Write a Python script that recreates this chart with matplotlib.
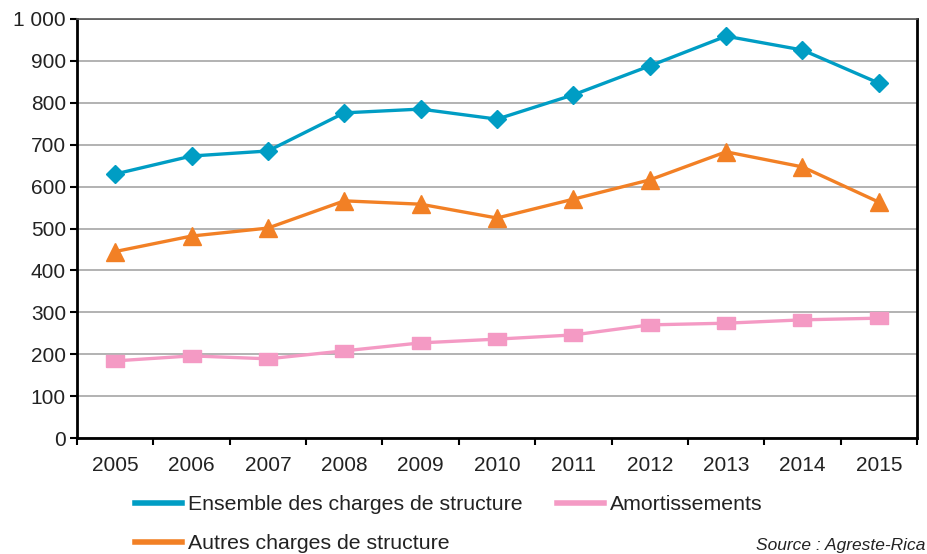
import matplotlib
matplotlib.use("Agg")
import matplotlib.pyplot as plt
import numpy as np

years = ["2005", "2006", "2007", "2008", "2009", "2010", "2011", "2012", "2013", "2014", "2015"]
ensemble = [630, 673, 685, 776, 785, 761, 819, 888, 959, 926, 847]
autres = [445, 482, 501, 566, 558, 525, 570, 616, 683, 647, 563]
amort = [184, 196, 189, 208, 227, 236, 246, 270, 274, 282, 286]
yticks = [0, 100, 200, 300, 400, 500, 600, 700, 800, 900, 1000]
ytick_labels = ["0", "100", "200", "300", "400", "500", "600", "700", "800", "900", "1 000"]
labels = ["Ensemble des charges de structure", "Autres charges de structure", "Amortissements"]
source = "Source : Agreste-Rica"

plt.rcParams['font.family'] = ['Liberation Sans', 'DejaVu Sans']

c_blue = "#009DC4"
c_orange = "#F28025"
c_pink = "#F49AC4"

fig = plt.figure(figsize=(9.27, 5.54), dpi=100)
ax = fig.add_axes([77/927, 1-438/554, (917-77)/927, (438-19)/554])

x = np.arange(len(years))
rect = [(-1, -0.68), (1, -0.68), (1, 0.68), (-1, 0.68), (-1, -0.68)]

l1, = ax.plot(x, ensemble, color=c_blue, lw=2.4, marker='D', ms=9, mec=c_blue, mfc=c_blue, zorder=4)
l2, = ax.plot(x, autres, color=c_orange, lw=2.4, marker='^', ms=13.5, mec=c_orange, mfc=c_orange, zorder=4)
l3, = ax.plot(x, amort, color=c_pink, lw=2.4, marker=rect, ms=13.5, mec=c_pink, mfc=c_pink, zorder=4)

ax.set_xlim(-0.5, len(years) - 0.5)
ax.set_ylim(0, 1000)
ax.set_yticks(yticks)
ax.set_yticklabels(ytick_labels)
ax.yaxis.grid(True, color="#a6a6a6", lw=1.2)
ax.set_axisbelow(True)

ax.set_xticks(np.arange(-0.5, len(years), 1.0))
ax.set_xticklabels([])
ax.set_xticks(x, minor=True)
ax.set_xticklabels(years, minor=True)
ax.tick_params(axis='x', which='minor', length=0, pad=13, labelsize=15, colors="#222222")
ax.tick_params(axis='x', which='major', length=5, width=1.5, color='black')
ax.tick_params(axis='y', which='major', length=5, width=1.5, color='black', labelsize=15, labelcolor="#222222", pad=3)

for s in ['left', 'bottom', 'right']:
    ax.spines[s].set_color('black')
    ax.spines[s].set_linewidth(2)
ax.spines['top'].set_color('#555555')
ax.spines['top'].set_linewidth(1.2)

hl1 = plt.Line2D([], [], color=c_blue, lw=4)
hl2 = plt.Line2D([], [], color=c_orange, lw=4)
hl3 = plt.Line2D([], [], color=c_pink, lw=4)
fig.legend([hl1, hl2, hl3], labels, ncol=2, loc='upper left',
           bbox_to_anchor=(135/927, 1-495/554), frameon=False,
           fontsize=15.3, handlelength=2.2, handletextpad=0.3,
           columnspacing=1.6, labelspacing=0.95, borderpad=0, borderaxespad=0,
           labelcolor="#222222")

fig.text(925/927, 1-553/554, source, fontsize=12.5, style='italic', color="#222222",
         ha='right', va='bottom')

fig.savefig("out.png", dpi=100)
